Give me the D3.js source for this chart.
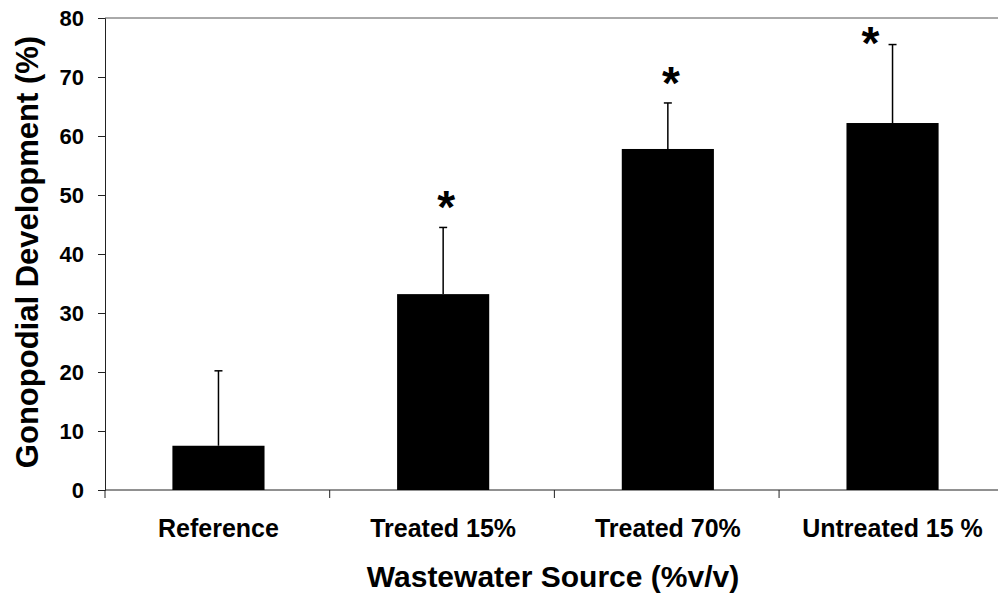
<!DOCTYPE html>
<html>
<head>
<meta charset="utf-8">
<script src="https://cdn.jsdelivr.net/npm/d3@7"></script>
<style>
  body { margin: 0; background: #fff; }
  text { font-family: "Liberation Sans", Arial, sans-serif; font-weight: bold; fill: #000; }
</style>
</head>
<body>
<svg id="chart" width="998" height="596"></svg>
<script>
'use strict';

// Data
let categories = ['Reference', 'Treated 15%', 'Treated 70%', 'Untreated 15 %'];
let means = [7.5, 33.2, 57.8, 62.2];
let errors = [12.7, 11.3, 7.8, 13.3];
let significant = [false, true, true, true];
let yTicks = [0, 10, 20, 30, 40, 50, 60, 70, 80];

// Format
let format = {
  left: 105,
  right: 1006,
  top: 18,
  bottom: 490,
};

let svg = d3.select('#chart');

let xScale = d3.scaleBand()
  .domain(categories)
  .range([format.left, format.right])
  .paddingInner(0.59)
  .paddingOuter(0.3);

let yScale = d3.scaleLinear()
  .domain([0, 80])
  .range([format.bottom, format.top]);

// top frame line
svg.append('line')
  .attr('x1', format.left).attr('x2', 998)
  .attr('y1', format.top).attr('y2', format.top)
  .attr('stroke', '#555').attr('stroke-width', 1);

// y axis
let yAxis = d3.axisLeft(yScale).tickValues(yTicks).tickSize(7).tickPadding(14);
let gy = svg.append('g')
  .attr('transform', `translate(${format.left},0)`)
  .call(yAxis);
gy.select('.domain').attr('stroke', '#222');
gy.selectAll('.tick line').attr('stroke', '#222');
gy.selectAll('text').style('font-size', '22px');

// x axis: ticks at category boundaries
let step = xScale.step();
let boundaries = d3.range(categories.length + 1).map(i => format.left + i * step);
svg.append('line')
  .attr('x1', format.left).attr('x2', 998)
  .attr('y1', format.bottom).attr('y2', format.bottom)
  .attr('stroke', '#222');
svg.selectAll('.xtick')
  .data(boundaries)
  .enter()
  .append('line')
  .attr('class', 'xtick')
  .attr('x1', d => d).attr('x2', d => d)
  .attr('y1', format.bottom).attr('y2', format.bottom + 8)
  .attr('stroke', '#222');

svg.selectAll('.xlabel')
  .data(categories)
  .enter()
  .append('text')
  .attr('class', 'xlabel')
  .attr('x', d => xScale(d) + xScale.bandwidth() / 2)
  .attr('y', 537)
  .attr('text-anchor', 'middle')
  .style('font-size', '25px')
  .text(d => d);

// error bars (upper only)
let cx = (i) => xScale(categories[i]) + xScale.bandwidth() / 2;
svg.selectAll('.err')
  .data(means)
  .enter()
  .append('line')
  .attr('class', 'err')
  .attr('x1', (d, i) => cx(i)).attr('x2', (d, i) => cx(i))
  .attr('y1', d => yScale(d))
  .attr('y2', (d, i) => yScale(d + errors[i]))
  .attr('stroke', '#000').attr('stroke-width', 1.5);
svg.selectAll('.cap')
  .data(means)
  .enter()
  .append('line')
  .attr('class', 'cap')
  .attr('x1', (d, i) => cx(i) - 4).attr('x2', (d, i) => cx(i) + 4)
  .attr('y1', (d, i) => yScale(d + errors[i]))
  .attr('y2', (d, i) => yScale(d + errors[i]))
  .attr('stroke', '#000').attr('stroke-width', 1.5);

// bars
svg.selectAll('.bar')
  .data(means)
  .enter()
  .append('rect')
  .attr('class', 'bar')
  .attr('x', (d, i) => xScale(categories[i]))
  .attr('y', d => yScale(d))
  .attr('width', xScale.bandwidth())
  .attr('height', d => format.bottom - yScale(d))
  .attr('fill', '#000');

// significance stars
svg.selectAll('.star')
  .data(means)
  .enter()
  .filter((d, i) => significant[i])
  .append('text')
  .attr('class', 'star')
  .each(function (d) {
    let idx = means.indexOf(d);
    let topY = yScale(d + errors[idx]);
    let x = cx(idx) + 3;
    let y = topY - 4;
    if (y - 30 < format.top) {
      // no room above: put it beside the error bar
      x = cx(idx) - 22;
      y = topY + 14;
    }
    d3.select(this).attr('x', x).attr('y', y);
  })
  .attr('text-anchor', 'middle')
  .style('font-size', '46px')
  .text('*');

// axis titles
svg.append('text')
  .attr('x', 553)
  .attr('y', 587)
  .attr('text-anchor', 'middle')
  .style('font-size', '30px')
  .text('Wastewater Source (%v/v)');

svg.append('text')
  .attr('transform', `translate(38,252) rotate(-90)`)
  .attr('text-anchor', 'middle')
  .style('font-size', '31px')
  .text('Gonopodial Development (%)');
</script>
</body>
</html>
